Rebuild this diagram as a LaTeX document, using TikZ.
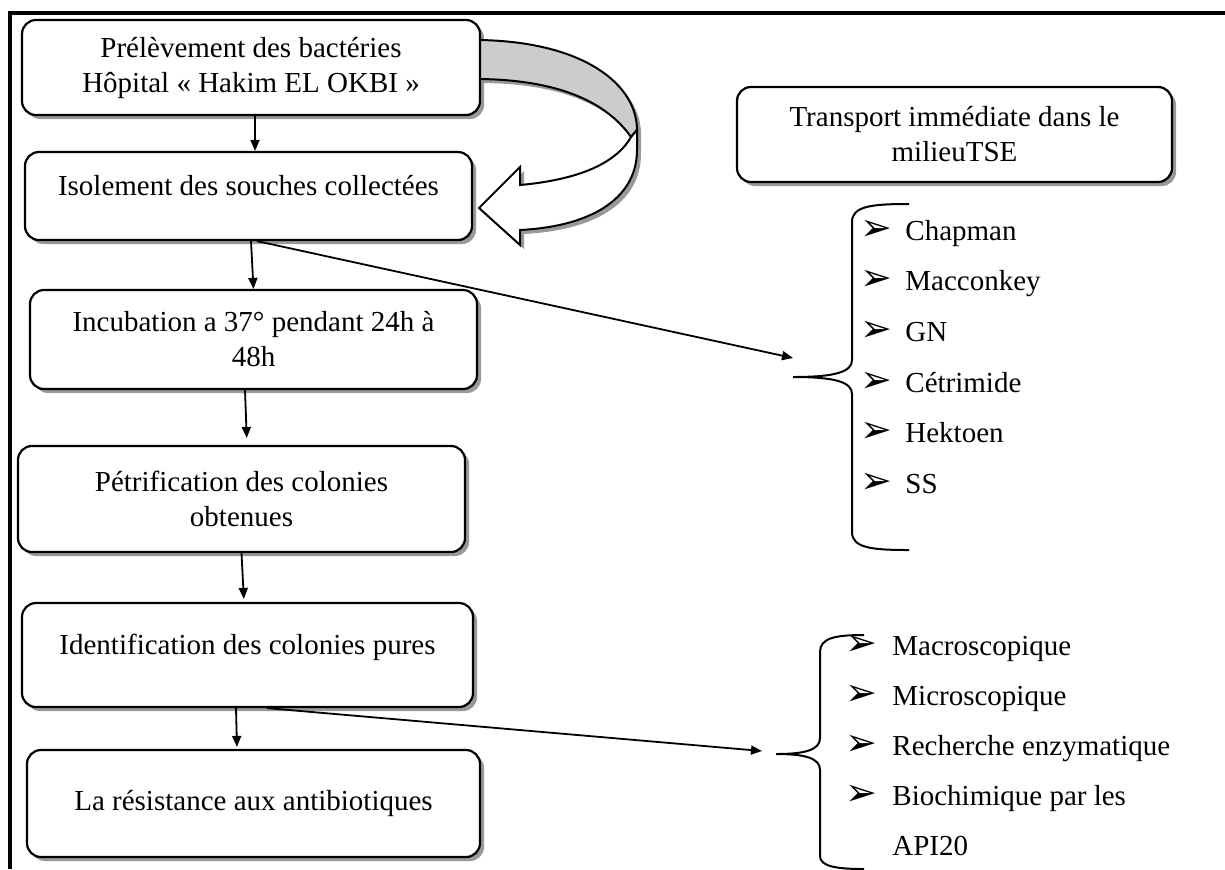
\documentclass[tikz,border=0pt]{standalone}
\usepackage{fontspec}
\setmainfont{Liberation Serif}
\newfontfamily\puce{DejaVu Sans}
\usepackage{tikz}
\usetikzlibrary{arrows.meta, calc, positioning, shadows}

\begin{document}
\begin{tikzpicture}[x=0.5pt, y=-0.5pt,
    every node/.style={font=\fontsize{14.5}{17.5}\selectfont, inner sep=3pt},
    ombre/.style={drop shadow={shadow xshift=2pt, shadow yshift=-2pt, fill=black!40, opacity=1}},
    etape/.style={draw, line width=1.1pt, rounded corners=7pt, fill=white, align=center, ombre},
    haut/.style={text depth=11pt},
    fleche/.style={-{Triangle[length=5.5pt,width=4.5pt]}, line width=0.9pt},
    accolade/.style={line width=1pt},
    liste/.style={anchor=base west, inner sep=0pt},
    fleur/.style={liste, font=\puce\fontsize{19}{21}\selectfont}]

        \useasboundingbox (0,0) rectangle (1225,869);

        % cadre
        \draw[line width=2pt] (10,869) -- (10,13) -- (1225,13);

        % etapes
        \node[etape, minimum width=229pt, minimum height=47.5pt] (prelev) at (251,67.5) {Prélèvement des bactéries\\Hôpital « Hakim EL OKBI »};
        \node[etape, haut, minimum width=223.5pt, minimum height=44pt] (isol) at (248.5,196) {Isolement des souches collectées};
        \node[etape, minimum width=223.5pt, minimum height=49.5pt] (incub) at (253.5,339.5) {Incubation a 37° pendant 24h à\\48h};
        \node[etape, minimum width=223.5pt, minimum height=53pt] (petri) at (241.5,499) {Pétrification des colonies\\obtenues};
        \node[etape, haut, minimum width=225.5pt, minimum height=52pt] (ident) at (247.5,655) {Identification des colonies pures};
        \node[etape, minimum width=226.5pt, minimum height=53.5pt] (resist) at (253.5,803.5) {La résistance aux antibiotiques};

        \node[etape, minimum width=217.5pt, minimum height=47.5pt] (transport) at (954.5,134.5) {Transport immédiate dans le\\milieuTSE};

        % fleche courbe
        \path[fill=gray!40, draw, line width=1pt, ombre] (480,40) .. controls (585,42) and (637,85) .. (637,130)
            -- (631,137) .. controls (605,100) and (555,80) .. (480,79) -- cycle;
        \path[fill=white, draw, line width=1pt, ombre] (637,130) -- (637,150) .. controls (637,195) and (597,226) .. (520,230)
            -- (520,245) -- (479,208) -- (520,167) -- (520,185) .. controls (575,180) and (615,165) .. (631,137) -- cycle;

        % fleches
        \draw[fleche] ([xshift=2pt]prelev.south) -- ([xshift=3.25pt]isol.north);
        \draw[fleche] ([xshift=1.25pt]isol.south) -- (incub.north);
        \draw[fleche, shorten >=3.5pt] ([xshift=-4.25pt]incub.south) -- ([xshift=2.75pt]petri.north);
        \draw[fleche, shorten >=1.5pt] (petri.south) -- ([xshift=-1.75pt]ident.north);
        \draw[fleche, shorten >=1pt] ([xshift=-5.75pt]ident.south) -- ([xshift=-8.25pt]resist.north);

        \coordinate (fin1) at (793,358);
        \coordinate (fin2) at (762,751);
        \draw[fleche] ([xshift=4.25pt]isol.south) -- (fin1);
        \draw[fleche] ([xshift=9.75pt]ident.south) -- (fin2);

        % accolades
        \coordinate (acc1) at (793,377);
        \coordinate (acc2) at (776,754);
        \draw[accolade] (909,204) .. controls (872,204) and (852,206) .. (852,222) -- (852,360)
            .. controls (852,372) and (835,377) .. (acc1) .. controls (835,377) and (852,382) .. (852,394)
            -- (852,532) .. controls (852,548) and (872,550) .. (909,550);
        \draw[accolade] (864,635) .. controls (835,635) and (820,638) .. (820,652) -- (820,738)
            .. controls (820,750) and (805,754) .. (acc2) .. controls (805,754) and (820,758) .. (820,770)
            -- (820,856) .. controls (820,866) and (835,869) .. (864,869);

        % milieux
        \foreach \i/\y/\nom in {1/240/Chapman, 2/290/Macconkey, 3/341/GN, 4/392/Cétrimide, 5/442/Hektoen, 6/493/SS} {
            \node[fleur] (puceA\i) at (860,\y) {➢};
            \node[liste] (milieu\i) at (905,\y) {\nom};
        }

        % identification
        \foreach \i/\y/\nom in {1/655/Macroscopique, 2/705/Microscopique, 3/755/Recherche enzymatique, 4/805/Biochimique  par les} {
            \node[fleur] (puceB\i) at (845,\y) {➢};
            \node[liste] (test\i) at (892,\y) {\nom};
        }
        \node[liste] (test5) at (892,855) {API20};

\end{tikzpicture}
\end{document}
